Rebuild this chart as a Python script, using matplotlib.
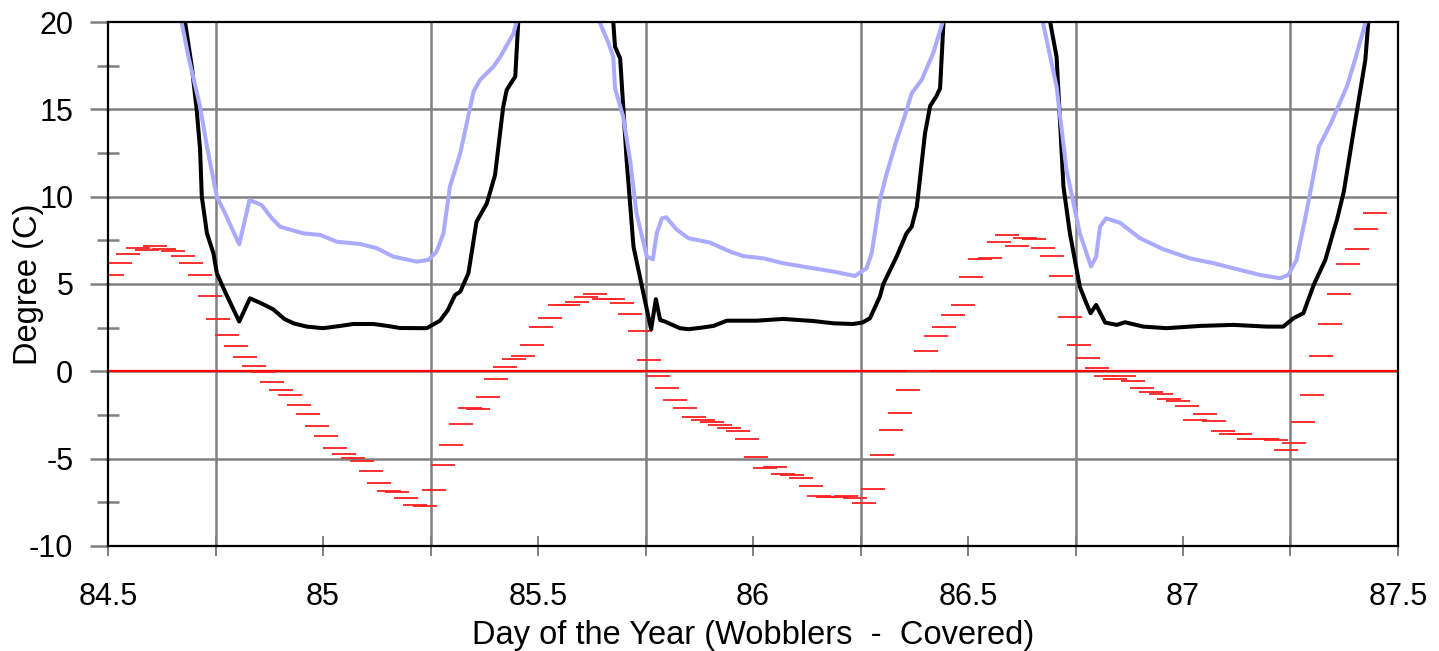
import numpy as np
import matplotlib
matplotlib.use("Agg")
import matplotlib.pyplot as plt
from matplotlib.ticker import FixedLocator, FormatStrFormatter

plt.rcParams['font.family'] = ['Liberation Sans', 'DejaVu Sans']
plt.rcParams['axes.unicode_minus'] = False

#### DATA

# black trace (values above 20 run off the top of the axes)
black_day = [84.665, 84.679, 84.695, 84.706, 84.714, 84.718, 84.730, 84.745, 84.753, 84.772,
             84.805, 84.830, 84.860, 84.884, 84.910, 84.931, 84.962, 85.000, 85.040, 85.070,
             85.117, 85.150, 85.179, 85.241, 85.272, 85.290, 85.307, 85.319, 85.338, 85.357,
             85.381, 85.400, 85.419, 85.427, 85.439, 85.447, 85.454, 85.460, 85.560, 85.665,
             85.675, 85.679, 85.691, 85.706, 85.722, 85.745, 85.763, 85.774, 85.784, 85.795,
             85.830, 85.850, 85.880, 85.908, 85.939, 86.009, 86.070, 86.140, 86.187, 86.233,
             86.255, 86.272, 86.295, 86.303, 86.334, 86.357, 86.369, 86.381, 86.400, 86.412,
             86.426, 86.435, 86.443, 86.448, 86.570, 86.685, 86.691, 86.706, 86.722, 86.737,
             86.760, 86.772, 86.785, 86.798, 86.819, 86.846, 86.865, 86.908, 86.962, 87.040,
             87.117, 87.195, 87.233, 87.257, 87.280, 87.304, 87.331, 87.351, 87.358, 87.374,
             87.396, 87.424, 87.431, 87.436]
black_temp = [23.0, 20.0, 17.4, 15.0, 12.7, 10.0, 7.9, 6.76, 5.62, 4.56,
              2.85, 4.18, 3.85, 3.55, 3.0, 2.75, 2.56, 2.47, 2.6, 2.71,
              2.71, 2.6, 2.48, 2.47, 2.9, 3.5, 4.37, 4.56, 5.61, 8.57,
              9.62, 11.24, 15.15, 16.1, 16.58, 16.87, 20.0, 23.0, 30.0, 23.0,
              20.0, 18.59, 17.92, 12.1, 7.14, 4.47, 2.4, 4.13, 2.94, 2.85,
              2.47, 2.41, 2.5, 2.6, 2.9, 2.9, 3.0, 2.88, 2.75, 2.71,
              2.8, 3.04, 4.28, 5.0, 6.57, 7.9, 8.28, 9.43, 13.63, 15.2,
              15.73, 16.2, 20.0, 23.0, 30.0, 23.0, 20.0, 18.0, 10.57, 7.9,
              4.85, 4.09, 3.33, 3.8, 2.79, 2.66, 2.81, 2.56, 2.47, 2.6,
              2.66, 2.56, 2.56, 3.04, 3.33, 4.95, 6.38, 8.1, 8.67, 10.29,
              13.63, 17.82, 20.0, 23.0]

# light blue trace
blue_day = [84.665, 84.671, 84.687, 84.714, 84.730, 84.753, 84.772, 84.805, 84.829, 84.857,
            84.881, 84.900, 84.954, 84.993, 85.032, 85.086, 85.125, 85.163, 85.218, 85.245,
            85.264, 85.280, 85.295, 85.319, 85.350, 85.365, 85.396, 85.412, 85.443, 85.450,
            85.456, 85.550, 85.638, 85.643, 85.664, 85.675, 85.679, 85.698, 85.714, 85.729,
            85.753, 85.767, 85.776, 85.788, 85.798, 85.823, 85.850, 85.900, 85.947, 85.977,
            86.024, 86.070, 86.140, 86.187, 86.237, 86.264, 86.276, 86.295, 86.311, 86.334,
            86.350, 86.369, 86.392, 86.419, 86.439, 86.441, 86.446, 86.560, 86.669, 86.674,
            86.706, 86.729, 86.760, 86.786, 86.798, 86.807, 86.821, 86.853, 86.900, 86.954,
            87.016, 87.071, 87.117, 87.179, 87.226, 87.245, 87.264, 87.285, 87.297, 87.316,
            87.344, 87.381, 87.402, 87.424, 87.428]
blue_temp = [22.0, 20.0, 18.0, 15.15, 12.86, 10.0, 9.05, 7.27, 9.81, 9.52,
             8.76, 8.28, 7.9, 7.81, 7.42, 7.29, 7.05, 6.57, 6.28, 6.38,
             6.85, 7.9, 10.57, 12.48, 16.01, 16.68, 17.44, 18.0, 19.35, 20.0,
             22.0, 28.0, 22.0, 20.0, 18.78, 18.0, 16.2, 14.58, 12.1, 9.05,
             6.57, 6.42, 7.9, 8.76, 8.82, 8.1, 7.62, 7.37, 6.85, 6.6,
             6.47, 6.19, 5.9, 5.71, 5.46, 5.9, 6.76, 9.81, 11.34, 13.25,
             14.39, 15.92, 16.68, 18.21, 19.83, 20.0, 22.0, 28.0, 22.0, 20.0,
             16.3, 11.53, 7.9, 6.0, 6.57, 8.28, 8.76, 8.51, 7.62, 6.99,
             6.47, 6.19, 5.9, 5.52, 5.33, 5.52, 6.38, 8.86, 10.38, 12.86,
             14.2, 16.3, 18.0, 19.92, 22.0]

# red half-hourly readings
red_day = [84.509, 84.527, 84.547, 84.570, 84.590, 84.610, 84.631, 84.652, 84.674, 84.694,
           84.714, 84.736, 84.756, 84.777, 84.798, 84.819, 84.839, 84.860, 84.881, 84.902,
           84.923, 84.944, 84.966, 84.987, 85.007, 85.028, 85.048, 85.069, 85.091, 85.111,
           85.131, 85.153, 85.173, 85.194, 85.215, 85.236, 85.258, 85.278, 85.298, 85.320,
           85.341, 85.361, 85.383, 85.403, 85.423, 85.445, 85.466, 85.485, 85.508, 85.528,
           85.550, 85.570, 85.591, 85.612, 85.633, 85.653, 85.674, 85.695, 85.715, 85.736,
           85.757, 85.778, 85.799, 85.819, 85.842, 85.862, 85.883, 85.904, 85.924, 85.945,
           85.966, 85.987, 86.007, 86.029, 86.050, 86.070, 86.091, 86.112, 86.134, 86.153,
           86.174, 86.196, 86.217, 86.236, 86.259, 86.279, 86.299, 86.321, 86.341, 86.360,
           86.383, 86.403, 86.425, 86.445, 86.466, 86.488, 86.508, 86.528, 86.550, 86.571,
           86.591, 86.613, 86.633, 86.653, 86.675, 86.696, 86.717, 86.738, 86.758, 86.780,
           86.800, 86.820, 86.842, 86.862, 86.883, 86.905, 86.925, 86.948, 86.967, 86.988,
           87.010, 87.029, 87.050, 87.072, 87.092, 87.112, 87.133, 87.154, 87.175, 87.196,
           87.217, 87.239, 87.259, 87.280, 87.301, 87.321, 87.342, 87.363, 87.384, 87.405,
           87.426, 87.447]
red_temp = [5.52, 6.22, 6.70, 7.05, 6.93, 7.20, 7.01, 6.91, 6.59, 6.22,
            5.52, 4.32, 3.00, 2.08, 1.47, 0.82, 0.33, -0.05, -0.61, -1.08,
            -1.35, -1.91, -2.46, -3.14, -3.68, -4.40, -4.75, -4.96, -5.13, -5.70,
            -6.39, -6.83, -6.89, -7.27, -7.65, -7.70, -6.81, -5.36, -4.23, -3.01,
            -2.08, -2.13, -1.49, -0.44, 0.23, 0.69, 0.88, 1.51, 2.56, 3.04,
            3.80, 3.80, 3.96, 4.28, 4.41, 4.14, 4.16, 3.92, 3.27, 2.31,
            0.67, -0.28, -0.93, -1.65, -2.10, -2.63, -2.80, -2.88, -3.05, -3.22,
            -3.43, -3.89, -4.90, -5.51, -5.49, -5.85, -5.95, -6.08, -6.56, -7.13,
            -7.21, -7.21, -7.13, -7.27, -7.52, -6.71, -4.80, -3.37, -2.40, -1.07,
            0.02, 1.19, 2.01, 2.52, 3.23, 3.82, 5.42, 6.43, 6.51, 7.41,
            7.83, 7.16, 7.64, 7.56, 7.08, 6.61, 5.44, 3.10, 1.51, 0.77,
            0.17, -0.24, -0.44, -0.28, -0.57, -0.93, -1.16, -1.28, -1.58, -1.68,
            -1.98, -2.80, -2.46, -2.86, -3.39, -3.58, -3.58, -3.89, -3.87, -3.89,
            -3.96, -4.48, -4.08, -2.90, -1.37, 0.86, 2.70, 4.41, 6.12, 7.03,
            8.13, 9.09]

x_labels = [84.5, 85, 85.5, 86, 86.5, 87, 87.5]
y_labels = [-10, -5, 0, 5, 10, 15, 20]

#### PLOTTING

fig = plt.figure(figsize=(14.39, 6.51), dpi=100)
ax = fig.add_axes([0.0751, 0.1613, 0.8964, 0.8049])

grid_col = '#808080'
ax.set_xlim(84.5, 87.5)
ax.set_ylim(-10, 20)

# vertical grid at the quarter days, horizontal every 5 degrees
for d in np.arange(84.75, 87.5, 0.5):
    ax.axvline(d, color=grid_col, lw=1.8, zorder=1)
for t in y_labels[1:-1]:
    ax.axhline(t, color=grid_col, lw=1.8, zorder=1)

ax.axhline(0, color='#ff0000', lw=1.6, zorder=2)

ax.plot(red_day, red_temp, linestyle='none', marker='_', markersize=17.5,
        markeredgewidth=1.3, color='#ff2020', zorder=3)
ax.plot(black_day, black_temp, color='black', lw=2.9, zorder=4)
ax.plot(blue_day, blue_temp, color='#aaaaff', lw=2.9, zorder=5)

# ticks
ax.xaxis.set_major_locator(FixedLocator(x_labels))
ax.xaxis.set_minor_locator(FixedLocator(np.arange(84.75, 87.5, 0.5)))
ax.xaxis.set_major_formatter(FormatStrFormatter('%g'))
ax.yaxis.set_major_locator(FixedLocator(y_labels))
ax.yaxis.set_minor_locator(FixedLocator(np.arange(-7.5, 20, 5)))

ax.tick_params(axis='x', which='both', direction='inout', length=14, width=1.4,
               color=grid_col, labelsize=22, pad=19)
ax.tick_params(axis='y', which='major', direction='out', length=13, width=1.8,
               color=grid_col, labelsize=22, pad=12)
ax.tick_params(axis='y', which='minor', direction='inout', length=16, width=1.8,
               color=grid_col)

for s in ax.spines.values():
    s.set_color('black')
    s.set_linewidth(1.6)
    s.set_zorder(6)

ax.set_xlabel('Day of the Year (Wobblers  -  Covered)', fontsize=23.5, labelpad=6)
ax.set_ylabel('Degree (C)', fontsize=23.5, labelpad=-11)

fig.savefig('out.png', dpi=100)
